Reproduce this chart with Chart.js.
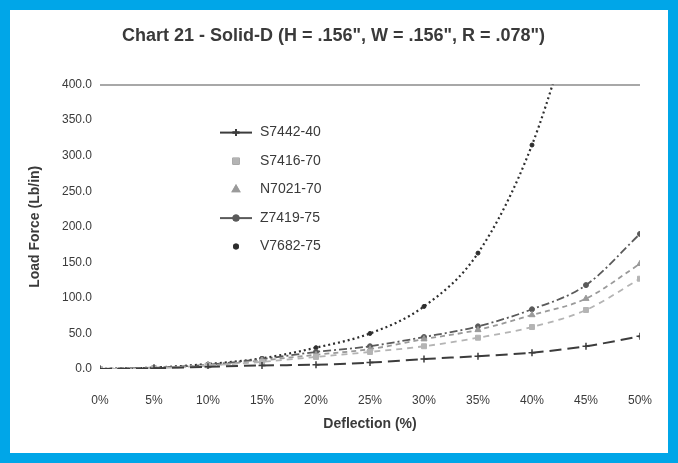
<!DOCTYPE html>
<html>
<head>
<meta charset="utf-8">
<script src="https://cdn.jsdelivr.net/npm/chart.js@4"></script>
<style>
  html, body { margin: 0; padding: 0; background: #fff; }
  .frame {
    width: 678px; height: 463px; box-sizing: border-box;
    border: 10px solid #00a6e8; background: #fff;
  }
  .frame canvas { display: block; }
</style>
</head>
<body>
<div class="frame"><canvas id="chart" width="658" height="443"></canvas></div>
<script>
// deflection in percent
const deflection = [0, 5, 10, 15, 20, 25, 30, 35, 40, 45, 50];
const yTicks = [0, 50, 100, 150, 200, 250, 300, 350, 400];

// load force (Lb/in) per compound
const s7442_40 = [0, 1, 3, 5, 6, 9, 14, 18, 23, 32, 46];
const s7416_70 = [0, 1, 5, 10, 17, 24, 32, 44, 59, 83, 127];
const n7021_70 = [0, 2, 5, 12, 20, 28, 42, 55, 76, 99, 148];
const z7419_75 = [0, 2, 6, 14, 24, 32, 45, 60, 84, 118, 190];
const v7682_75 = [0, 2, 7, 15, 30, 50, 88, 163, 315, 555, null];

const seriesNames = ["S7442-40", "S7416-70", "N7021-70", "Z7419-75", "V7682-75"];

const toPoints = (arr) => deflection.map((x, i) => ({ x: x, y: arr[i] }));

const fontFamily = "'Liberation Sans', Arial, sans-serif";
const textColor = "#3a3a3a";

const datasets = [
  {
    label: seriesNames[0], data: toPoints(s7442_40),
    borderColor: "#3c3c3c", backgroundColor: "#3c3c3c", borderWidth: 2,
    borderDash: [12, 6], pointStyle: "cross", pointRadius: 3.5, pointBorderWidth: 1.5,
    legendLine: true,
  },
  {
    label: seriesNames[1], data: toPoints(s7416_70),
    borderColor: "#b4b4b4", backgroundColor: "#b4b4b4", borderWidth: 1.8,
    borderDash: [6, 5], pointStyle: "rect", pointRadius: 3.5, pointBorderWidth: 1,
    legendLine: false,
  },
  {
    label: seriesNames[2], data: toPoints(n7021_70),
    borderColor: "#9a9a9a", backgroundColor: "#9a9a9a", borderWidth: 1.8,
    borderDash: [5, 4], pointStyle: "triangle", pointRadius: 3.5, pointBorderWidth: 1,
    legendLine: false,
  },
  {
    label: seriesNames[3], data: toPoints(z7419_75),
    borderColor: "#5a5a5a", backgroundColor: "#5a5a5a", borderWidth: 1.8,
    borderDash: [8, 3, 2, 3], pointStyle: "circle", pointRadius: 2.5, pointBorderWidth: 1,
    legendLine: true,
  },
  {
    label: seriesNames[4], data: toPoints(v7682_75),
    borderColor: "#2e2e2e", backgroundColor: "#2e2e2e", borderWidth: 2.2,
    borderDash: [2, 3], pointStyle: "circle", pointRadius: 2, pointBorderWidth: 1,
    legendLine: false,
  },
];

// legend drawn inside the plot area, like the original
const innerLegend = {
  id: "innerLegend",
  afterDraw(chart) {
    const ctx = chart.ctx;
    const left = chart.chartArea.left + 120;
    const top = chart.chartArea.top + 48;
    const rowH = 28.5;
    ctx.save();
    ctx.font = "14px " + fontFamily;
    ctx.textBaseline = "middle";
    ctx.fillStyle = textColor;
    chart.data.datasets.forEach((ds, i) => {
      const y = top + i * rowH;
      if (ds.legendLine) {
        ctx.strokeStyle = ds.borderColor;
        ctx.lineWidth = 2;
        ctx.setLineDash([]);
        ctx.beginPath();
        ctx.moveTo(left, y);
        ctx.lineTo(left + 32, y);
        ctx.stroke();
      }
      Chart.helpers.drawPoint(ctx, {
        pointStyle: ds.pointStyle, radius: ds.pointRadius, rotation: 0,
        borderWidth: ds.pointBorderWidth,
      }, left + 16, y);
      ctx.fillStyle = ds.borderColor;
      ctx.strokeStyle = ds.borderColor;
      ctx.fill();
      ctx.stroke();
      ctx.fillStyle = textColor;
      ctx.fillText(ds.label, left + 40, y);
    });
    ctx.restore();
  },
};

new Chart(document.getElementById("chart"), {
  type: "line",
  data: { datasets: datasets },
  options: {
    responsive: false,
    animation: false,
    layout: { padding: { left: 12, right: 23, top: 0, bottom: 0 } },
    elements: { line: { cubicInterpolationMode: "monotone" } },
    plugins: {
      legend: { display: false },
      tooltip: { enabled: false },
      title: {
        display: true,
        text: 'Chart 21 - Solid-D (H = .156", W = .156", R = .078")',
        color: textColor,
        font: { family: fontFamily, size: 18, weight: "bold" },
        padding: { top: 15, bottom: 38 },
      },
    },
    scales: {
      x: {
        type: "linear", min: 0, max: 50,
        afterFit: (scale) => { scale.height = 84; },
        afterBuildTicks: (scale) => { scale.ticks = deflection.map((v) => ({ value: v })); },
        grid: { display: false },
        border: { display: false },
        ticks: {
          padding: 16, color: textColor, maxRotation: 0,
          font: { family: fontFamily, size: 12 },
          callback: (v) => v + "%",
        },
        title: {
          display: true, text: "Deflection (%)", color: textColor,
          font: { family: fontFamily, size: 14, weight: "bold" },
          padding: { top: 0, bottom: 20 },
        },
      },
      y: {
        min: 0, max: 400,
        afterFit: (scale) => { scale.width = 78; },
        afterBuildTicks: (scale) => { scale.ticks = yTicks.map((v) => ({ value: v })); },
        grid: {
          drawTicks: false, lineWidth: 2,
          color: (c) => (c.tick && c.tick.value === 400 ? "#a8a8a8" : "rgba(0,0,0,0)"),
        },
        border: { display: false },
        ticks: {
          padding: 8, color: textColor,
          font: { family: fontFamily, size: 12 },
          callback: (v) => Number(v).toFixed(1),
        },
        title: {
          display: true, text: "Load Force (Lb/in)", color: textColor,
          font: { family: fontFamily, size: 14, weight: "bold" },
          padding: { top: 5, bottom: 4 },
        },
      },
    },
  },
  plugins: [innerLegend],
});
</script>
</body>
</html>
